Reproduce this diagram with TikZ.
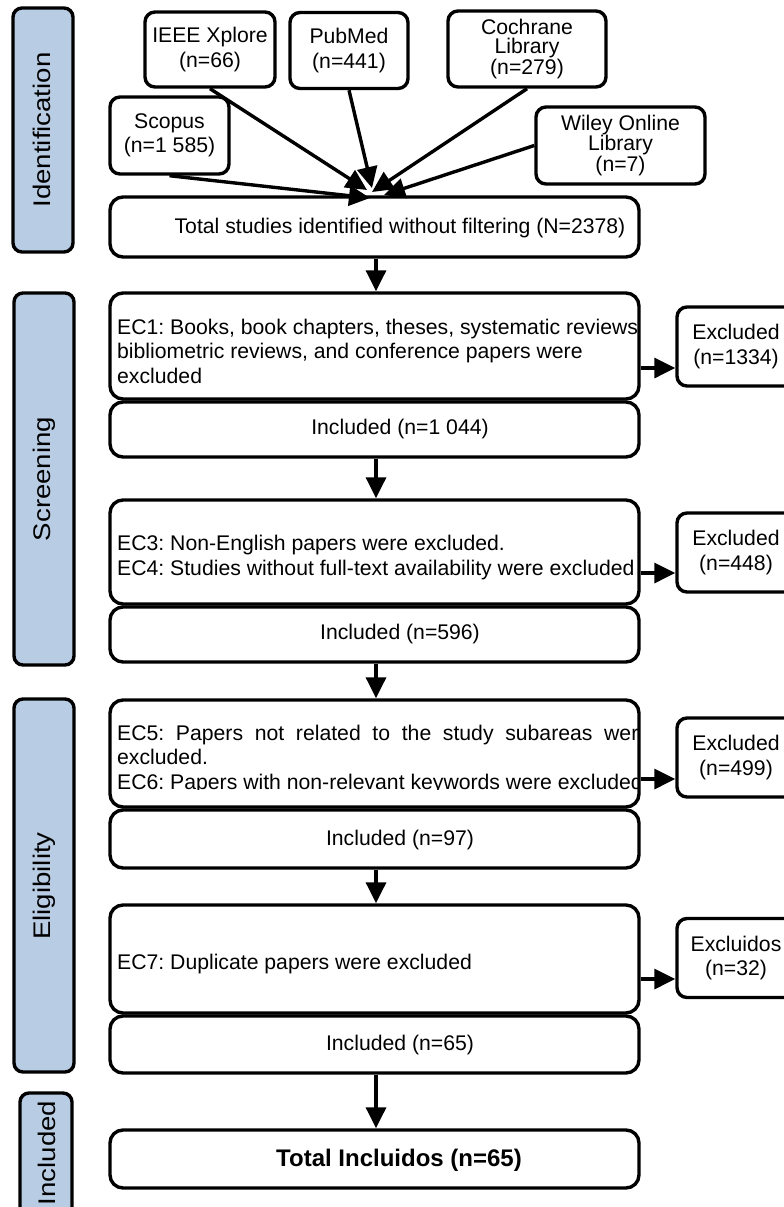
\documentclass[tikz,border=0pt]{standalone}
\usepackage{fontspec}
\setmainfont{Liberation Sans}
\usepackage{graphicx}
\usetikzlibrary{arrows.meta,calc}
\definecolor{sideblue}{HTML}{B8CCE4}
\newcommand\myfont{\frenchspacing\fontsize{21.2bp}{24.5bp}\selectfont}
\newcommand\myfontT{\frenchspacing\fontsize{21.2bp}{19.5bp}\selectfont}
\newcommand\myside[1]{\fontsize{24bp}{28bp}\selectfont\scalebox{1.15}[1]{#1}}
\tikzset{
  bx/.style={draw, line width=3.4bp, rounded corners=10bp, fill=white, inner sep=0pt, align=center, font=\myfont},
  mainbox/.style={draw, line width=3.4bp, rounded corners=13bp, fill=white, minimum width=529bp, inner sep=0pt},
  exbox/.style={bx, minimum width=118bp, minimum height=79bp},
  side/.style={draw, line width=3.4bp, rounded corners=9bp, fill=sideblue, inner sep=0pt},
  sidetxt/.style={rotate=90, anchor=base, inner sep=0pt},
  arr/.style={line width=3.4bp, -{Triangle[length=21bp,width=20bp]}},
  lbl/.style={inner sep=0pt, font=\myfont, align=center},
  eclbl/.style={inner sep=0pt, anchor=base west, font=\myfont},
}
\begin{document}
\begin{tikzpicture}[x=1bp, y=-1bp]
\useasboundingbox (0,0) rectangle (784,1207);

% side bars
\node[side, minimum width=60bp, minimum height=244bp] (sid1) at (43,130) {};
\node[side, minimum width=60bp, minimum height=372bp] (sid2) at (44,479) {};
\node[side, minimum width=60bp, minimum height=373bp] (sid3) at (44,885.5) {};
\node[side, minimum width=52bp, minimum height=127bp] (sid4) at (46,1156.5) {};
\node[sidetxt] (sidt1) at (50,130) {\myside{Identification}};
\node[sidetxt] (sidt2) at (50,479) {\myside{Screening}};
\node[sidetxt] (sidt3) at (50,886) {\myside{Eligibility}};
\node[sidetxt] (sidt4) at (55,1153) {\myside{Included}};

% sources
\node[bx, minimum width=130bp, minimum height=75bp] (ieee) at (210,49.5) {IEEE Xplore\\(n=66)};
\node[bx, minimum width=118bp, minimum height=76bp] (pubmed) at (349,50.5) {PubMed\\(n=441)};
\node[bx, minimum width=158bp, minimum height=76bp, font=\myfontT] (cochrane) at (527,49) {Cochrane\\Library\\(n=279)};
\node[bx, minimum width=119bp, minimum height=77bp] (scopus) at (169.5,135.5) {Scopus\\(n=1 585)};
\node[bx, minimum width=169bp, minimum height=77bp, font=\myfontT] (wiley) at (620.5,145.5) {Wiley Online\\Library\\(n=7)};

% main column
\node[mainbox, minimum height=60bp] (total) at (374.5,227) {};
\node[lbl] (totalt) at (400,228) {Total studies identified without filtering (N=2378)};

\node[mainbox, minimum height=106bp] (ec1) at (374.5,346) {};
\node[mainbox, minimum height=55bp] (inc1) at (374.5,429.5) {};
\node[lbl] (inc1t) at (400,429) {Included (n=1 044)};

\node[mainbox, minimum height=104bp] (ec3) at (374.5,552) {};
\node[mainbox, minimum height=55bp] (inc2) at (374.5,634.5) {};
\node[lbl] (inc2t) at (400,634) {Included (n=596)};

\node[mainbox, minimum height=107bp] (ec5) at (374.5,753.5) {};
\node[mainbox, minimum height=58bp] (inc3) at (374.5,839) {};
\node[lbl] (inc3t) at (400,840) {Included (n=97)};

\node[mainbox, minimum height=108bp] (ec7) at (374.5,959) {};
\node[mainbox, minimum height=57bp] (inc4) at (374.5,1044.5) {};
\node[lbl] (inc4t) at (400,1045) {Included (n=65)};

\node[mainbox, minimum height=58bp] (final) at (374.5,1159) {};
\node[lbl, font=\fontsize{24bp}{28bp}\selectfont\bfseries] (finalt) at (399,1160) {Total Incluidos (n=65)};

% EC texts (clipped to their boxes)
\begin{scope}
\clip (111.7,294.7) rectangle (637.3,397.3);
\node[eclbl] (ec1t) at (117,334) {\parbox[t]{600bp}{\raggedright EC1: Books, book chapters, theses, systematic reviews,\\ bibliometric reviews, and conference papers were\\ excluded}};
\end{scope}
\begin{scope}
\clip (111.7,501.7) rectangle (637.3,602.3);
\node[eclbl] (ec3t) at (117,550.5) {\parbox[t]{600bp}{\raggedright EC3: Non-English papers were excluded.\\ EC4: Studies without full-text availability were excluded}};
\end{scope}
\begin{scope}
\clip (111.7,701.7) rectangle (637.3,789);
\node[eclbl] (ec5t) at (117,740) {\parbox[t]{533bp}{\hyphenpenalty=10000 EC5: Papers not related to the study subareas were\linebreak excluded.\par EC6: Papers with non-relevant keywords were excluded}};
\end{scope}
\begin{scope}
\clip (111.7,906.7) rectangle (637.3,1011.3);
\node[eclbl] (ec7t) at (117,969.5) {EC7: Duplicate papers were excluded};
\end{scope}

% exclusion boxes
\node[exbox] (exc1) at (736,346.5) {Excluded\\(n=1334)};
\node[exbox] (exc2) at (736,552.5) {Excluded\\(n=448)};
\node[exbox] (exc3) at (736,757.5) {Excluded\\(n=499)};
\node[exbox] (exc4) at (736,958) {Excluidos\\(n=32)};

% source arrows
\coordinate (tS) at (370,198);
\coordinate (tI) at (367,190);
\coordinate (tP) at (372,188);
\coordinate (tC) at (372,192);
\coordinate (tW) at (384,195);
\draw[arr] (scopus.south) -- (tS);
\draw[arr] (ieee.south) -- (tI);
\draw[arr] (pubmed.south) -- (tP);
\draw[arr] (cochrane.south) -- (tC);
\draw[arr] (wiley.west) -- (tW);

% vertical arrows
\draw[arr] ([xshift=1.5bp]total.south) -- ([xshift=1.5bp]ec1.north);
\draw[arr] ([xshift=1.5bp]inc1.south) -- ([xshift=1.5bp]ec3.north);
\draw[arr] ([xshift=1.5bp]inc2.south) -- ([xshift=1.5bp]ec5.north);
\draw[arr] ([xshift=1.5bp]inc3.south) -- ([xshift=1.5bp]ec7.north);
\draw[arr] ([xshift=1.5bp]inc4.south) -- ([xshift=1.5bp]final.north);

% exclusion arrows
\coordinate (r1) at (0,368);
\coordinate (r2) at (0,573);
\coordinate (r3) at (0,779);
\coordinate (r4) at (0,979);
\draw[arr] (ec1.east |- r1) -- (exc1.west |- r1);
\draw[arr] (ec3.east |- r2) -- (exc2.west |- r2);
\draw[arr] (ec5.east |- r3) -- (exc3.west |- r3);
\draw[arr] (ec7.east |- r4) -- (exc4.west |- r4);
\end{tikzpicture}
\end{document}
